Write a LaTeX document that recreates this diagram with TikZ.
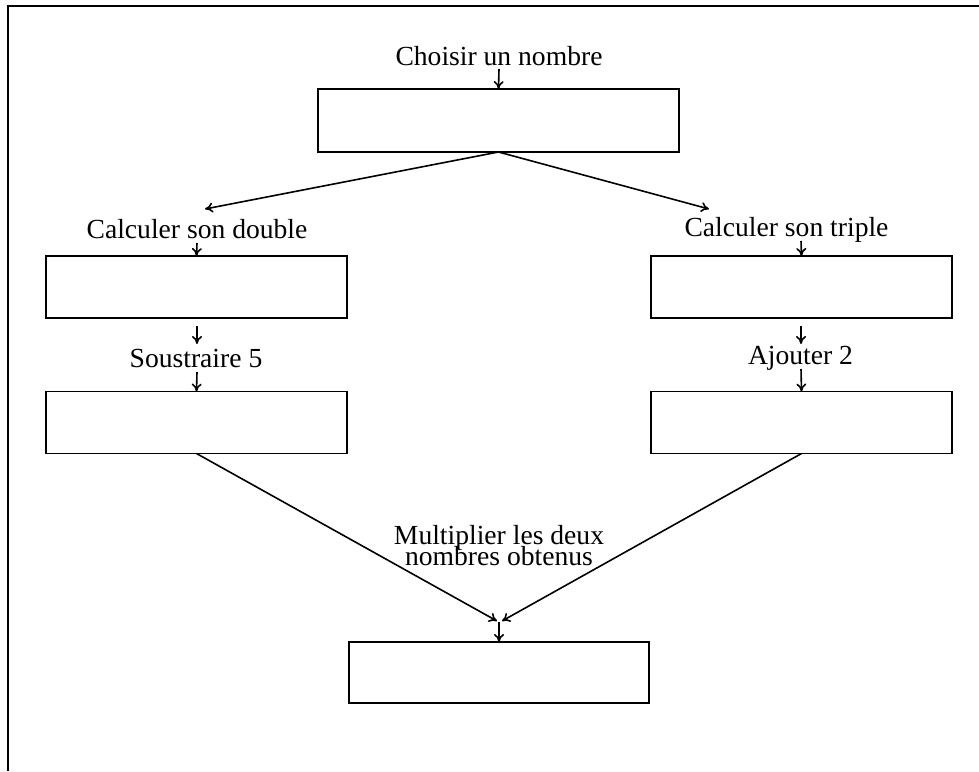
\documentclass[tikz,border=0pt]{standalone}
\usepackage{fontspec}
\setmainfont{Liberation Serif}
\usetikzlibrary{arrows.meta}
\newcommand\mytightlines{\lineskiplimit=-20pt\relax}
\begin{document}
\begin{tikzpicture}[x=0.5pt,y=-0.5pt,
  box/.style={draw,line width=0.9pt,rectangle,inner sep=0pt,outer sep=0pt,minimum width=150.5pt,minimum height=31pt},
  lab/.style={inner sep=0pt,anchor=base,font={\fontsize{13.8}{10.5}\selectfont\mytightlines}},
  conn/.style={line width=0.8pt,-{To[length=4pt,width=5pt]}}]
\useasboundingbox (0,0) rectangle (979,771);
\draw[line width=1pt] (979,6) -- (8,6) -- (8,771);
% top
\node[box,minimum width=180.5pt,minimum height=31.5pt] (b0) at (498.5,120.5) {};
\node[lab] (t0) at (499,65) {Choisir un nombre};
\coordinate (a0) at (499,69);
\draw[conn] (a0) -- (b0.north);
% branches
\coordinate (lt) at (205,209);
\coordinate (rt) at (709,209);
\draw[conn] (b0.south) -- (lt);
\draw[conn] (b0.south) -- (rt);
% left branch
\node[lab] (t1) at (197,238) {Calculer son double};
\node[box] (b1) at (196.5,287) {};
\coordinate (a1) at (197,243);
\draw[conn] (a1) -- (b1.north);
\coordinate (a2s) at (197,326);
\coordinate (a2) at (197,344);
\draw[conn] (a2s) -- (a2);
\node[lab] (t2) at (196,367) {Soustraire 5};
\node[box] (b2) at (196.5,422.5) {};
\coordinate (a3) at (197,372);
\draw[conn] (a3) -- (b2.north);
% right branch
\node[lab] (t3) at (786.5,236) {Calculer son triple};
\node[box] (b3) at (801.5,287) {};
\coordinate (a4) at (801,241);
\draw[conn] (a4) -- (b3.north);
\coordinate (a5s) at (801,326);
\coordinate (a5) at (801,344);
\draw[conn] (a5s) -- (a5);
\node[lab] (t4) at (800.5,364) {Ajouter 2};
\node[box] (b4) at (801.5,422.5) {};
\coordinate (a6) at (801,369);
\draw[conn] (a6) -- (b4.north);
% bottom
\node[lab,align=center] (t5) at (499,565) {Multiplier les deux\\nombres obtenus};
\coordinate (ml) at (497,621);
\coordinate (mr) at (502,621);
\draw[conn] (b2.south) -- (ml);
\draw[conn] (b4.south) -- (mr);
\node[box,minimum width=150pt,minimum height=30.5pt] (b5) at (499,672.5) {};
\coordinate (a7) at (499,622);
\draw[conn] (a7) -- (b5.north);
\end{tikzpicture}
\end{document}
